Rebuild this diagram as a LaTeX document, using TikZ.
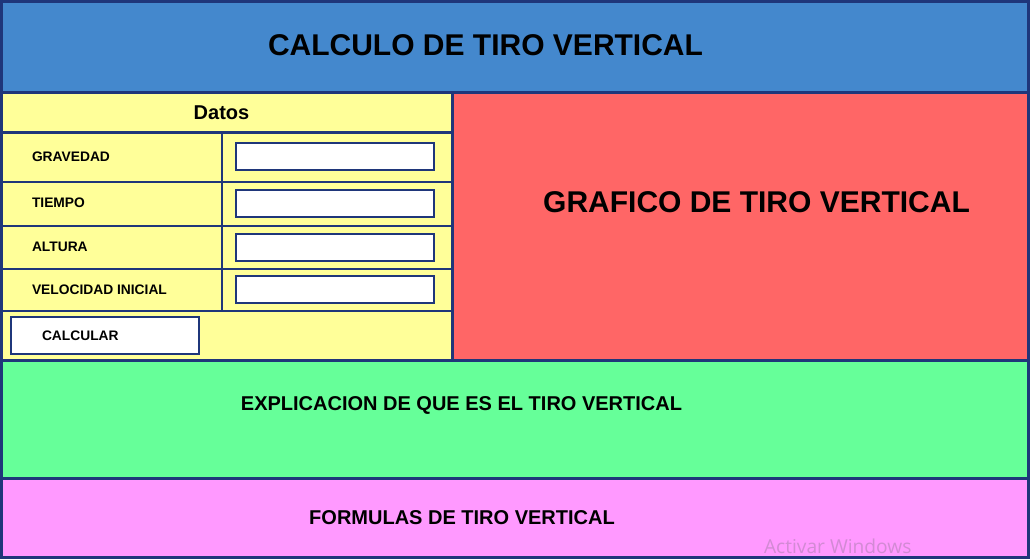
\documentclass[tikz,border=0pt]{standalone}
\usepackage{fontspec}
\setmainfont{Liberation Sans}
\newfontfamily\marcafont{Open Sans}
\definecolor{borde}{RGB}{31,54,122}
\definecolor{azul}{RGB}{68,136,205}
\definecolor{amarillo}{RGB}{255,255,153}
\definecolor{rojo}{RGB}{255,102,102}
\definecolor{verde}{RGB}{102,255,153}
\definecolor{rosa}{RGB}{255,153,255}
\definecolor{marca}{RGB}{210,138,212}
\begin{document}
\begin{tikzpicture}[x=1pt, y=-1pt, font=\bfseries, every node/.style={inner sep=0pt, outer sep=0pt}, panel/.style={draw=borde, line width=3pt, anchor=north west}, celda/.style={draw=borde, line width=2pt, anchor=north west}, caja/.style={draw=borde, line width=2pt, fill=white, anchor=north west, minimum width=198pt, minimum height=27pt}, etiqueta/.style={anchor=west, font=\fontsize{13.8}{16}\selectfont\bfseries}]
	\useasboundingbox (0,0) rectangle (1030,559);
	
	% Titulo
	\node[panel, fill=azul, minimum width=1027pt, minimum height=91.5pt] (titulo) at (1.5,1.5) {};
	\node[font=\fontsize{30}{36}\selectfont\bfseries] (tituloTxt) at (485.5,45) {CALCULO DE TIRO VERTICAL};
	
	% Datos
	\node[panel, fill=amarillo, minimum width=450.5pt, minimum height=267pt] (datos) at (1.5,93) {};
	\node[panel, minimum width=450.5pt, minimum height=40pt] (datosCab) at (1.5,93) {};
	\node[font=\fontsize{20}{24}\selectfont\bfseries] (datosTxt) at (221.5,113) {Datos};
	\node[celda, minimum width=220.5pt, minimum height=49pt] (celdaG) at (1.5,133) {};
	\node[celda, minimum width=230pt, minimum height=49pt] (valorG) at (222,133) {};
	\node[celda, minimum width=220.5pt, minimum height=44pt] (celdaT) at (1.5,182) {};
	\node[celda, minimum width=230pt, minimum height=44pt] (valorT) at (222,182) {};
	\node[celda, minimum width=220.5pt, minimum height=43pt] (celdaA) at (1.5,226) {};
	\node[celda, minimum width=230pt, minimum height=43pt] (valorA) at (222,226) {};
	\node[celda, minimum width=220.5pt, minimum height=42pt] (celdaV) at (1.5,269) {};
	\node[celda, minimum width=230pt, minimum height=42pt] (valorV) at (222,269) {};
	\node[etiqueta] (gravedad) at (32,156.5) {GRAVEDAD};
	\node[etiqueta] (tiempo) at (32,203) {TIEMPO};
	\node[etiqueta] (altura) at (32,247) {ALTURA};
	\node[etiqueta] (velocidad) at (32,289.5) {VELOCIDAD INICIAL};
	\node[caja] (cajaG) at (236,143) {};
	\node[caja] (cajaT) at (236,190) {};
	\node[caja] (cajaA) at (236,234) {};
	\node[caja] (cajaV) at (236,276) {};
	
	% Boton
	\node[celda, fill=white, minimum width=188pt, minimum height=37pt] (boton) at (11,317) {};
	\node[etiqueta] (calcular) at (42,335.5) {CALCULAR};
	
	% Grafico
	\node[panel, fill=rojo, minimum width=576.5pt, minimum height=267pt] (grafico) at (452,93) {};
	\node[font=\fontsize{30}{36}\selectfont\bfseries] (graficoTxt) at (756.5,202) {GRAFICO DE TIRO VERTICAL};
	
	% Explicacion
	\node[panel, fill=verde, minimum width=1027pt, minimum height=118pt] (explicacion) at (1.5,360) {};
	\node[font=\fontsize{20}{24}\selectfont\bfseries] (explicacionTxt) at (461.5,405) {EXPLICACION DE QUE ES EL TIRO VERTICAL};
	
	% Formulas
	\node[panel, fill=rosa, minimum width=1027pt, minimum height=79.5pt] (formulas) at (1.5,478) {};
	\node[font=\fontsize{20}{24}\selectfont\bfseries] (formulasTxt) at (462,518) {FORMULAS DE TIRO VERTICAL};
	\node[anchor=west, text=marca, font=\marcafont\fontsize{19.2}{23}\selectfont] (marcaTxt) at (764,546.5) {Activar Windows};
	
	% Marco
	\draw[borde, line width=3pt] (1.5,1.5) rectangle (1028.5,557.5);
\end{tikzpicture}
\end{document}
